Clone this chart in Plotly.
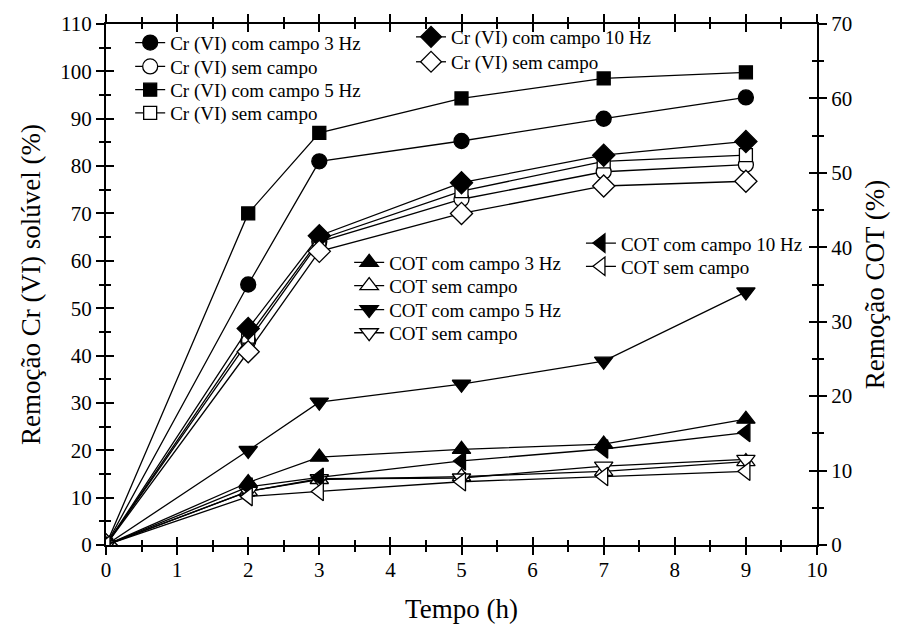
import plotly.graph_objects as go

tempo = [0, 2, 3, 5, 7, 9]

cr_3hz = [0, 55.0, 81.0, 85.3, 90.0, 94.5]
cr_sem_circ = [0, 43.0, 64.0, 73.0, 78.8, 80.3]
cr_5hz = [0, 70.0, 87.0, 94.3, 98.5, 99.8]
cr_sem_sq = [0, 44.0, 64.5, 74.7, 81.0, 82.3]
cr_10hz = [0, 45.7, 65.3, 76.5, 82.3, 85.2]
cr_sem_dia = [0, 40.8, 62.0, 70.0, 75.8, 76.8]

cot_3hz = [0, 8.4, 11.8, 12.85, 13.55, 16.9]
cot_sem_up = [0, 7.2, 8.8, 9.2, 9.9, 11.2]
cot_5hz = [0, 12.7, 19.2, 21.6, 24.7, 34.0]
cot_sem_down = [0, 7.2, 8.9, 9.0, 10.6, 11.5]
cot_10hz = [0, 7.8, 9.1, 11.3, 12.9, 15.1]
cot_sem_left = [0, 6.5, 7.2, 8.5, 9.2, 9.9]

FONT = "Times New Roman, Liberation Serif, serif"

fig = go.Figure()


def add(y, name, symbol, filled, size, yaxis, legend):
    fig.add_trace(go.Scatter(
        x=tempo, y=y, name=name, mode="lines+markers",
        yaxis=yaxis, legend=legend,
        line=dict(color="black", width=1.3),
        marker=dict(symbol=symbol, size=size,
                    color="black" if filled else "white",
                    line=dict(color="black", width=1.3)),
    ))


add(cr_3hz, "Cr (VI) com campo 3 Hz", "circle", True, 15, "y", "legend")
add(cr_sem_circ, "Cr (VI) sem campo", "circle", False, 15, "y", "legend2")
add(cr_5hz, "Cr (VI) com campo 5 Hz", "square", True, 13, "y", "legend3")
add(cr_sem_sq, "Cr (VI) sem campo", "square", False, 13, "y", "legend4")
add(cr_10hz, "Cr (VI) com campo 10 Hz", "diamond", True, 17, "y", "legend5")
add(cr_sem_dia, "Cr (VI) sem campo", "diamond", False, 17, "y", "legend6")

add(cot_3hz, "COT com campo 3 Hz", "triangle-up", True, 16, "y2", "legend7")
add(cot_sem_up, "COT sem campo", "triangle-up", False, 16, "y2", "legend8")
add(cot_5hz, "COT com campo 5 Hz", "triangle-down", True, 16, "y2", "legend9")
add(cot_sem_down, "COT sem campo", "triangle-down", False, 16, "y2", "legend10")
add(cot_10hz, "COT com campo 10 Hz", "triangle-left", True, 16, "y2", "legend11")
add(cot_sem_left, "COT sem campo", "triangle-left", False, 16, "y2", "legend12")

# invisible traces to activate tick-overlay axes
fig.add_trace(go.Scatter(x=[None], y=[None], xaxis="x2", yaxis="y3", showlegend=False, hoverinfo="skip"))
fig.add_trace(go.Scatter(x=[None], y=[None], xaxis="x2", yaxis="y4", showlegend=False, hoverinfo="skip"))

tickfont = dict(family=FONT, size=21, color="black")
titlefont = dict(family=FONT, size=27, color="black")
common = dict(showgrid=False, zeroline=False, showline=True, linecolor="black",
              linewidth=2, tickcolor="black", tickwidth=1.5)

legend_common = dict(font=dict(family=FONT, size=19, color="black"),
                     bgcolor="rgba(0,0,0,0)", xanchor="left", yanchor="top",
                     tracegroupgap=0, itemwidth=30)

PLOT_H = 641 - 22 - 96


def ly(top_px):
    return 1 - (top_px - 22) / PLOT_H


# legend placement (paper coordinates, from pixel tops of each row)
legend_pos = {
    "legend": (0.034, ly(21.7)), "legend2": (0.034, ly(45.7)),
    "legend3": (0.034, ly(69.0)), "legend4": (0.034, ly(92.3)),
    "legend5": (0.429, ly(16.0)), "legend6": (0.429, ly(41.0)),
    "legend7": (0.342, ly(242.3)), "legend8": (0.342, ly(265.7)),
    "legend9": (0.342, ly(289.7)), "legend10": (0.342, ly(313.0)),
    "legend11": (0.668, ly(223.0)), "legend12": (0.668, ly(246.3)),
}
legends = {k: dict(x=v[0], y=v[1], **legend_common) for k, v in legend_pos.items()}

fig.update_layout(
    width=898, height=641,
    margin=dict(l=106, r=81, t=22, b=96),
    plot_bgcolor="white", paper_bgcolor="white",
    xaxis=dict(range=[0, 10], dtick=1, ticks="outside", ticklen=8, mirror="ticks",
               ticklabelstandoff=-3,
               minor=dict(dtick=0.5, ticks="outside", ticklen=5, tickcolor="black", tickwidth=1.5),
               tickfont=tickfont, title=dict(text="Tempo (h)", font=titlefont, standoff=18),
               **common),
    xaxis2=dict(range=[0, 10], dtick=1, overlaying="x", side="bottom", ticks="inside",
                ticklen=8, mirror="ticks", showticklabels=False,
                minor=dict(dtick=0.5, ticks="inside", ticklen=5, tickcolor="black", tickwidth=1.5),
                **common),
    yaxis=dict(range=[0, 110], dtick=10, ticks="outside", ticklen=8,
               minor=dict(dtick=5, ticks="outside", ticklen=5, tickcolor="black", tickwidth=1.5),
               tickfont=tickfont,
               title=dict(text="Remoção Cr (VI) solúvel (%)", font=titlefont, standoff=12),
               **common),
    yaxis2=dict(range=[0, 70], dtick=10, overlaying="y", side="right", ticks="outside", ticklen=8,
                minor=dict(dtick=5, ticks="outside", ticklen=5, tickcolor="black", tickwidth=1.5),
                tickfont=tickfont,
                title=dict(text="Remoção COT (%)", font=titlefont, standoff=14),
                **common),
    yaxis3=dict(range=[0, 110], dtick=10, overlaying="y", side="left", ticks="inside", ticklen=8,
                showticklabels=False,
                minor=dict(dtick=5, ticks="inside", ticklen=5, tickcolor="black", tickwidth=1.5),
                **common),
    yaxis4=dict(range=[0, 70], dtick=10, overlaying="y", side="right", ticks="inside", ticklen=8,
                showticklabels=False,
                minor=dict(dtick=5, ticks="inside", ticklen=5, tickcolor="black", tickwidth=1.5),
                **common),
    showlegend=True,
    **legends,
)

fig.write_html("out.html")
